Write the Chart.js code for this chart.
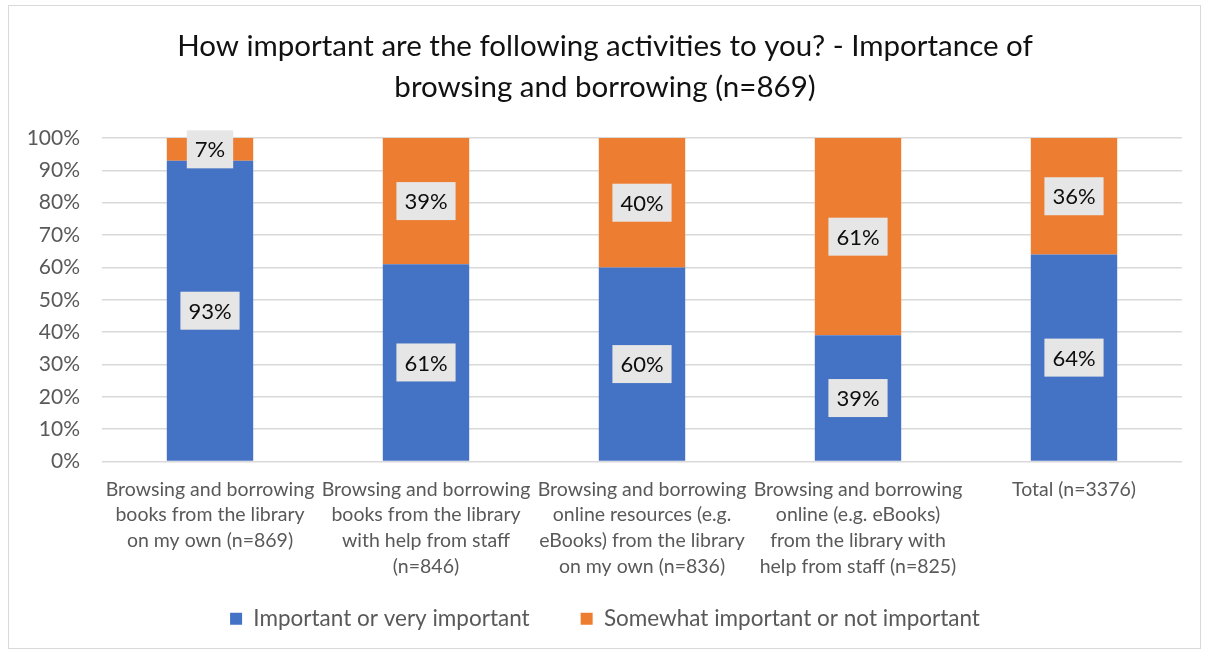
<!DOCTYPE html>
<html>
<head>
<meta charset="utf-8">
<script src="https://cdn.jsdelivr.net/npm/chart.js@4"></script>
<style>
  body { margin: 0; background: #fff; }
  #wrap {
    position: absolute; left: 8px; top: 5px;
    width: 1191px; height: 642px;
    border: 1px solid #d9d9d9;
  }
</style>
</head>
<body>
<div id="wrap"><canvas id="chartBrowsing"></canvas></div>
<script>
const categories = [
  ["Browsing and borrowing", "books from the library", "on my own (n=869)"],
  ["Browsing and borrowing", "books from the library", "with help from staff", "(n=846)"],
  ["Browsing and borrowing", "online resources (e.g.", "eBooks) from the library", "on my own (n=836)"],
  ["Browsing and borrowing", "online (e.g. eBooks)", "from the library with", "help from staff (n=825)"],
  ["Total (n=3376)"]
];
const important = [93, 61, 60, 39, 64];
const notImportant = [7, 39, 40, 61, 36];
const yTicks = [0, 10, 20, 30, 40, 50, 60, 70, 80, 90, 100];

const FONT = "Lato";
const GREY = "#595959";

// percentage boxes in the middle of each segment
const valueLabels = {
  id: "valueLabels",
  afterDatasetsDraw(chart) {
    const ctx = chart.ctx;
    ctx.save();
    ctx.font = "22px " + FONT;
    ctx.textAlign = "center";
    ctx.textBaseline = "middle";
    chart.data.datasets.forEach((ds, i) => {
      chart.getDatasetMeta(i).data.forEach((bar, j) => {
        const text = ds.data[j] + "%";
        const p = bar.getProps(["x", "y", "base"], true);
        const cy = (p.y + p.base) / 2;
        const w = ctx.measureText(text).width + 16;
        const h = 38;
        ctx.fillStyle = "#e7e6e6";
        ctx.fillRect(p.x - w / 2, cy - h / 2, w, h);
        ctx.fillStyle = "#0d0d0d";
        ctx.fillText(text, p.x, cy + 1);
      });
    });
    ctx.restore();
  }
};

new Chart(document.getElementById("chartBrowsing"), {
  type: "bar",
  data: {
    labels: categories,
    datasets: [
      {
        label: "Important or very important",
        data: important,
        backgroundColor: "#4472c4"
      },
      {
        label: "Somewhat important or not important",
        data: notImportant,
        backgroundColor: "#ed7d31"
      }
    ]
  },
  options: {
    responsive: true,
    maintainAspectRatio: false,
    animation: false,
    layout: { padding: { left: 19, right: 18, top: 0, bottom: 8 } },
    datasets: { bar: { categoryPercentage: 1, barPercentage: 0.4 } },
    scales: {
      x: {
        stacked: true,
        grid: { display: false },
        border: { display: false },
        ticks: {
          color: GREY,
          font: { family: FONT, size: 19.5, lineHeight: 1.32 },
          maxRotation: 0,
          autoSkip: false,
          padding: 7
        },
        afterFit(scale) { scale.height = 118; }
      },
      y: {
        stacked: true,
        min: 0,
        max: 100,
        afterBuildTicks(scale) { scale.ticks = yTicks.map(v => ({ value: v })); },
        grid: { color: "#d9d9d9", lineWidth: 1.5, drawTicks: false },
        border: { display: false },
        ticks: {
          color: GREY,
          font: { family: FONT, size: 21 },
          padding: 22,
          callback: v => v + "%"
        },
        afterFit(scale) { scale.width = 74; }
      }
    },
    plugins: {
      title: {
        display: true,
        text: [
          "How important are the following activities to you? - Importance of",
          "browsing and borrowing (n=869)"
        ],
        color: "#111111",
        font: { family: FONT, size: 29.5, weight: "normal", lineHeight: 1.39 },
        padding: { top: 20, bottom: 30 }
      },
      legend: {
        position: "bottom",
        labels: {
          color: GREY,
          font: { family: FONT, size: 22.5 },
          boxWidth: 12,
          boxHeight: 12,
          padding: 28,
          // wider gap after the first entry
          generateLabels(chart) {
            const items = Chart.defaults.plugins.legend.labels.generateLabels(chart);
            items[0].text += "    ";
            return items;
          }
        }
      },
      tooltip: { enabled: false }
    }
  },
  plugins: [valueLabels]
});
</script>
</body>
</html>
